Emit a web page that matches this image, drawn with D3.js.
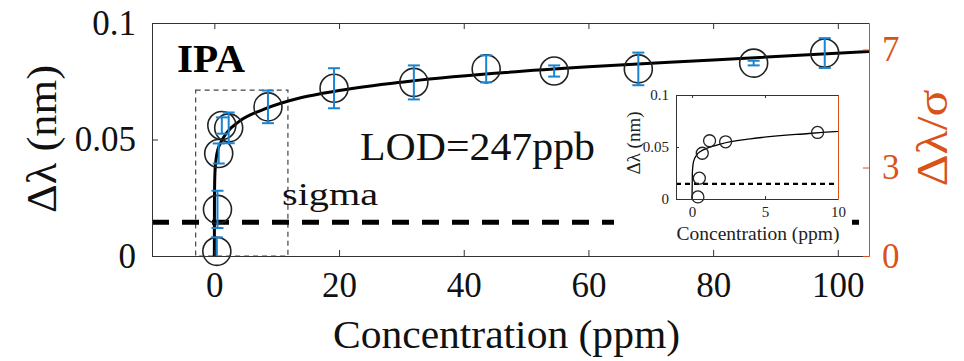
<!DOCTYPE html>
<html>
<head>
<meta charset="utf-8">
<script src="https://cdn.jsdelivr.net/npm/d3@7"></script>
<style>
  html, body { margin: 0; padding: 0; background: #fff; }
  svg { display: block; }
  text { font-family: "Liberation Serif", "Times New Roman", serif; }
</style>
</head>
<body>
<svg id="chart" width="964" height="361"></svg>
<script>
// ---------------- data ----------------
const concentration = [0.4, 0.5, 0.7, 1.2, 2.3, 8.6, 19.2, 32, 43.6, 54.5, 68, 86.5, 97.9];
const shift = [0.002, 0.020, 0.044, 0.056, 0.055, 0.064, 0.072, 0.0745, 0.0803, 0.0794, 0.0803, 0.0828, 0.0871];
const shiftErr = [0.006, 0.008, 0.0043, 0.0035, 0.0066, 0.007, 0.0086, 0.0073, 0.0058, 0.0024, 0.007, 0.001, 0.0064];
const fitX = [0, 0.02, 0.1, 0.3, 0.6, 1, 2, 4, 8, 14, 20, 30, 45, 60, 80, 105];
const fitY = [0, 0.025, 0.036, 0.042, 0.046, 0.0486, 0.053, 0.0578, 0.063, 0.068, 0.071, 0.0746, 0.0784, 0.0812, 0.0841, 0.0878];
const sigmaLevel = 0.0145;
const zoomBoxX = [-3.0, 11.8];
const zoomBoxY = [0, 0.0712];
const xTicks = [0, 20, 40, 60, 80, 100];
const yTicks = [0, 0.05, 0.1];
const yTickLabels = ["0", "0.05", "0.1"];
const rightTicks = [0, 3, 7];
const insetXTicks = [0, 5, 10];
const insetYTicks = [0, 0.05, 0.1];
const insetYTickLabels = ["0", "0.05", "0.1"];

// ---------------- setup ----------------
const svg = d3.select("#chart");
const ORANGE = "#D95319";
const BLUE = "#1b84cf";
const AX = "#333";

const M = { left: 152, right: 869, top: 23, bottom: 256 };
const x = d3.scaleLinear().domain([-10, 105]).range([M.left, M.right]);
const y = d3.scaleLinear().domain([0, 0.1]).range([M.bottom, M.top]);
const yR = d3.scaleLinear().domain([0, 7.9]).range([M.bottom, M.top]);

const pts = concentration.map((c, i) => ({ x: c, y: shift[i], e: shiftErr[i] }));
const fit = fitX.map((v, i) => ({ x: v, y: fitY[i] }));

// clip for main plot
const defs = svg.append("defs");
defs.append("clipPath").attr("id", "mainClip").append("rect")
  .attr("x", M.left).attr("y", M.top - 20).attr("width", M.right - M.left).attr("height", M.bottom - M.top + 20);

const main = svg.append("g");

// zoom dashed box
main.append("rect")
  .attr("x", x(zoomBoxX[0])).attr("y", y(zoomBoxY[1]))
  .attr("width", x(zoomBoxX[1]) - x(zoomBoxX[0]))
  .attr("height", y(zoomBoxY[0]) - y(zoomBoxY[1]))
  .attr("fill", "none").attr("stroke", "#444").attr("stroke-width", 1.2)
  .attr("stroke-dasharray", "5,4");

// sigma dashed line
main.append("line")
  .attr("x1", x(-10)).attr("x2", x(105))
  .attr("y1", y(sigmaLevel)).attr("y2", y(sigmaLevel))
  .attr("stroke", "#000").attr("stroke-width", 5).attr("stroke-dasharray", "17,13");

// fit curve
const line = d3.line().x(d => x(d.x)).y(d => y(d.y)).curve(d3.curveMonotoneX);
main.append("path").datum(fit).attr("d", line)
  .attr("fill", "none").attr("stroke", "#000").attr("stroke-width", 3)
  .attr("clip-path", "url(#mainClip)");

// circles
main.selectAll("circle.pt").data(pts).join("circle")
  .attr("class", "pt")
  .attr("cx", d => x(d.x)).attr("cy", d => y(d.y)).attr("r", 14)
  .attr("fill", "none").attr("stroke", "#222").attr("stroke-width", 1.6);

// error bars
const eb = main.selectAll("g.eb").data(pts).join("g").attr("class", "eb")
  .attr("stroke", BLUE).attr("stroke-width", 2);
eb.append("line").attr("x1", d => x(d.x)).attr("x2", d => x(d.x))
  .attr("y1", d => y(Math.max(0, d.y - d.e))).attr("y2", d => y(d.y + d.e));
eb.append("line").attr("x1", d => x(d.x) - 6).attr("x2", d => x(d.x) + 6)
  .attr("y1", d => y(d.y + d.e)).attr("y2", d => y(d.y + d.e));
eb.filter(d => d.y - d.e > 0).append("line").attr("x1", d => x(d.x) - 6).attr("x2", d => x(d.x) + 6)
  .attr("y1", d => y(d.y - d.e)).attr("y2", d => y(d.y - d.e));

// axes (MATLAB-like box, ticks inward)
const axBottom = d3.axisBottom(x).tickValues(xTicks).tickSizeInner(-6).tickSizeOuter(0).tickPadding(16);
const gB = svg.append("g").attr("transform", `translate(0,${M.bottom})`).call(axBottom);
gB.select(".domain").attr("stroke", AX);
gB.selectAll(".tick line").attr("stroke", AX);
gB.selectAll("text").attr("font-size", 35).attr("fill", "#111")
  .attr("font-family", "Liberation Serif, serif");

const axTop = d3.axisTop(x).tickValues(xTicks).tickSizeInner(-6).tickSizeOuter(0).tickFormat("");
const gT = svg.append("g").attr("transform", `translate(0,${M.top})`).call(axTop);
gT.select(".domain").attr("stroke", AX);
gT.selectAll(".tick line").attr("stroke", AX);

const axLeft = d3.axisLeft(y).tickValues(yTicks).tickSizeInner(-6).tickSizeOuter(0).tickPadding(16)
  .tickFormat((d, i) => yTickLabels[i]);
const gL = svg.append("g").attr("transform", `translate(${M.left},0)`).call(axLeft);
gL.select(".domain").attr("stroke", AX);
gL.selectAll(".tick line").attr("stroke", AX);
gL.selectAll("text").attr("font-size", 35).attr("fill", "#111")
  .attr("font-family", "Liberation Serif, serif");

const axRight = d3.axisRight(yR).tickValues(rightTicks).tickSizeInner(-6).tickSizeOuter(0).tickPadding(13);
const gR = svg.append("g").attr("transform", `translate(${M.right},0)`).call(axRight);
gR.select(".domain").attr("stroke", ORANGE);
gR.selectAll(".tick line").attr("stroke", ORANGE);
gR.selectAll("text").attr("font-size", 35).attr("fill", ORANGE)
  .attr("font-family", "Liberation Serif, serif");

// labels
svg.append("text").attr("x", 333).attr("y", 348).attr("font-size", 40).attr("fill", "#111")
  .attr("textLength", 347).attr("lengthAdjust", "spacingAndGlyphs")
  .text("Concentration (ppm)");
svg.append("text").attr("transform", "translate(56,139) rotate(-90)")
  .attr("text-anchor", "middle").attr("font-size", 42).attr("fill", "#111")
  .attr("textLength", 148).attr("lengthAdjust", "spacingAndGlyphs")
  .text("Δλ (nm)");
svg.append("text").attr("transform", "translate(947,138) rotate(-90)")
  .attr("text-anchor", "middle").attr("font-size", 44).attr("fill", ORANGE)
  .attr("textLength", 97).attr("lengthAdjust", "spacingAndGlyphs")
  .text("Δλ/σ");
svg.append("text").attr("x", 177).attr("y", 72).attr("font-size", 41).attr("font-weight", "bold")
  .attr("fill", "#000").attr("textLength", 68).attr("lengthAdjust", "spacingAndGlyphs").text("IPA");
svg.append("text").attr("x", 360).attr("y", 160).attr("font-size", 41).attr("fill", "#111")
  .attr("textLength", 235).attr("lengthAdjust", "spacingAndGlyphs").text("LOD=247ppb");
svg.append("text").attr("x", 282).attr("y", 205).attr("font-size", 32).attr("fill", "#111")
  .attr("textLength", 96).attr("lengthAdjust", "spacingAndGlyphs").text("sigma");

// ---------------- inset ----------------
const I = { left: 676, right: 838, top: 95, bottom: 199 };
const xi = d3.scaleLinear().domain([-1.1, 10]).range([I.left, I.right]);
const yi = d3.scaleLinear().domain([0, 0.1]).range([I.bottom, I.top]);

const inset = svg.append("g");
inset.append("rect").attr("x", 614).attr("y", 88).attr("width", 238).attr("height", 162).attr("fill", "#fff");

defs.append("clipPath").attr("id", "insetClip").append("rect")
  .attr("x", I.left).attr("y", I.top).attr("width", I.right - I.left).attr("height", I.bottom - I.top);

inset.append("line").attr("x1", xi(-1.1)).attr("x2", xi(10))
  .attr("y1", yi(sigmaLevel)).attr("y2", yi(sigmaLevel))
  .attr("stroke", "#000").attr("stroke-width", 2.2).attr("stroke-dasharray", "5,4");

const lineI = d3.line().x(d => xi(d.x)).y(d => yi(d.y)).curve(d3.curveMonotoneX);
inset.append("path").datum(fit).attr("d", lineI)
  .attr("fill", "none").attr("stroke", "#000").attr("stroke-width", 1.3)
  .attr("clip-path", "url(#insetClip)");

inset.selectAll("circle.ipt").data(pts.filter(d => d.x <= 10)).join("circle")
  .attr("class", "ipt")
  .attr("cx", d => xi(d.x)).attr("cy", d => yi(d.y)).attr("r", 6)
  .attr("fill", "none").attr("stroke", "#222").attr("stroke-width", 1.3);

const iB = inset.append("g").attr("transform", `translate(0,${I.bottom})`)
  .call(d3.axisBottom(xi).tickValues(insetXTicks).tickSizeInner(-3).tickSizeOuter(0).tickPadding(7));
const iT = inset.append("g").attr("transform", `translate(0,${I.top})`)
  .call(d3.axisTop(xi).tickValues(insetXTicks).tickSizeInner(-3).tickSizeOuter(0).tickFormat(""));
const iL = inset.append("g").attr("transform", `translate(${I.left},0)`)
  .call(d3.axisLeft(yi).tickValues(insetYTicks).tickSizeInner(-3).tickSizeOuter(0).tickPadding(7)
    .tickFormat((d, i) => insetYTickLabels[i]));
const iR = inset.append("g").attr("transform", `translate(${I.right},0)`)
  .call(d3.axisRight(yi).tickValues([]).tickSizeOuter(0));
[iB, iT, iL].forEach(g => {
  g.select(".domain").attr("stroke", AX);
  g.selectAll(".tick line").attr("stroke", AX);
  g.selectAll("text").attr("font-size", 15).attr("fill", "#222")
    .attr("font-family", "Liberation Serif, serif");
});
iR.select(".domain").attr("stroke", ORANGE);

inset.append("text").attr("x", 758).attr("y", 240).attr("text-anchor", "middle")
  .attr("font-size", 19).attr("fill", "#222")
  .attr("textLength", 163).attr("lengthAdjust", "spacingAndGlyphs").text("Concentration (ppm)");
inset.append("text").attr("transform", "translate(640,143) rotate(-90)")
  .attr("text-anchor", "middle").attr("font-size", 19).attr("fill", "#222")
  .text("Δλ (nm)");
</script>
</body>
</html>
